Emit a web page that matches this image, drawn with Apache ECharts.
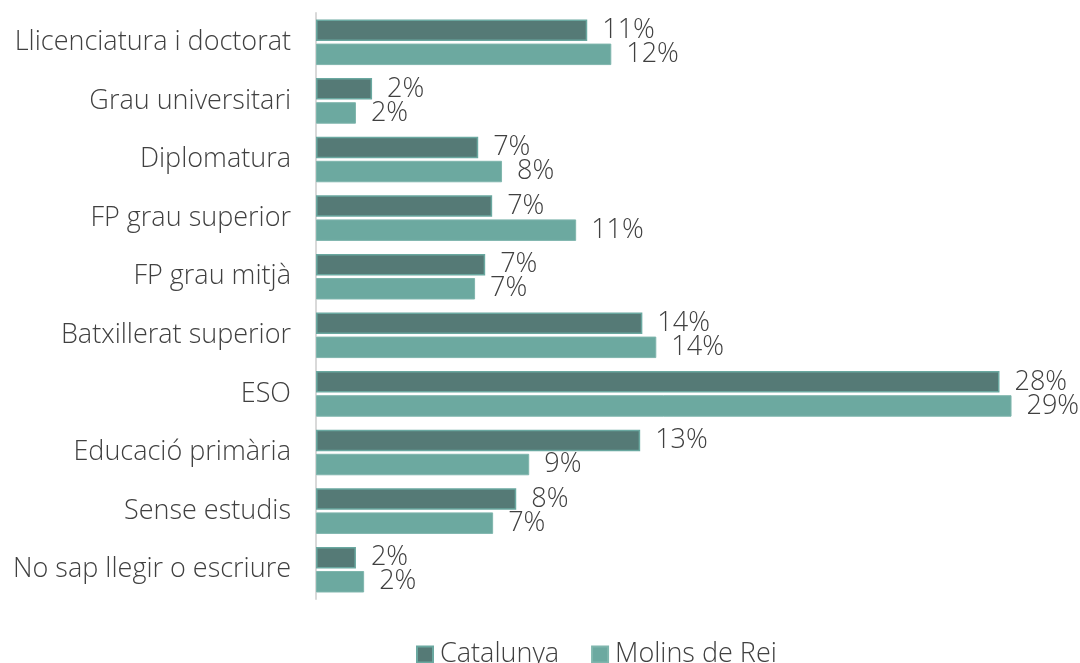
<!DOCTYPE html>
<html>
<head>
<meta charset="utf-8">
<script src="https://cdn.jsdelivr.net/npm/echarts@6/dist/echarts.min.js"></script>
<style>
  html, body { margin: 0; padding: 0; background: #fff; }
  #chart { width: 1080px; height: 663px; }
</style>
</head>
<body>
<div id="chart"></div>
<script>
// nivell d'estudis
const categories = [
  'Llicenciatura i doctorat',
  'Grau universitari',
  'Diplomatura',
  'FP grau superior',
  'FP grau mitjà',
  'Batxillerat superior',
  'ESO',
  'Educació primària',
  'Sense estudis',
  'No sap llegir o escriure'
];
const catalunya = [11.27, 2.33, 6.74, 7.32, 7.03, 13.56, 28.4, 13.47, 8.32, 1.66];
const molinsDeRei = [12.27, 1.66, 7.73, 10.81, 6.61, 14.14, 28.9, 8.86, 7.36, 2.0];

const textColor = '#404040';
const fontFamily = '"Open Sans", Lato, sans-serif';

const chart = echarts.init(document.getElementById('chart'));

const valueLabel = {
  show: true,
  position: 'right',
  distance: 15,
  color: textColor,
  fontSize: 27,
  fontWeight: 300,
  fontFamily: fontFamily,
  formatter: (p) => Math.round(p.value) + '%'
};

chart.setOption({
  animation: false,
  textStyle: { fontFamily: fontFamily },
  grid: { left: 316, right: 42, top: 13, bottom: 64, containLabel: false },
  legend: {
    left: 411,
    top: 636,
    icon: 'rect',
    itemWidth: 16,
    itemHeight: 16,
    itemGap: 32,
    textStyle: {
      color: textColor, fontSize: 27, lineHeight: 27, fontWeight: 300,
      fontFamily: fontFamily, padding: [0, 0, 0, 2]
    },
    data: ['Catalunya', 'Molins de Rei']
  },
  xAxis: {
    type: 'value',
    min: 0,
    max: 30,
    show: false
  },
  yAxis: {
    type: 'category',
    inverse: true,
    data: categories,
    axisLine: { show: true, lineStyle: { color: '#d9d9d9', width: 2 } },
    axisTick: { show: false },
    axisLabel: { color: textColor, fontSize: 27, fontWeight: 300, margin: 25, fontFamily: fontFamily }
  },
  series: [
    {
      name: 'Catalunya',
      type: 'bar',
      data: catalunya,
      barWidth: 21.5,
      barGap: '12%',
      itemStyle: { color: '#557a76', borderColor: '#6aa8a0', borderWidth: 1.5 },
      label: valueLabel
    },
    {
      name: 'Molins de Rei',
      type: 'bar',
      data: molinsDeRei,
      barWidth: 21.5,
      itemStyle: { color: '#6ca9a0', borderColor: '#7fb6ad', borderWidth: 1 },
      label: valueLabel
    }
  ]
});
</script>
</body>
</html>
